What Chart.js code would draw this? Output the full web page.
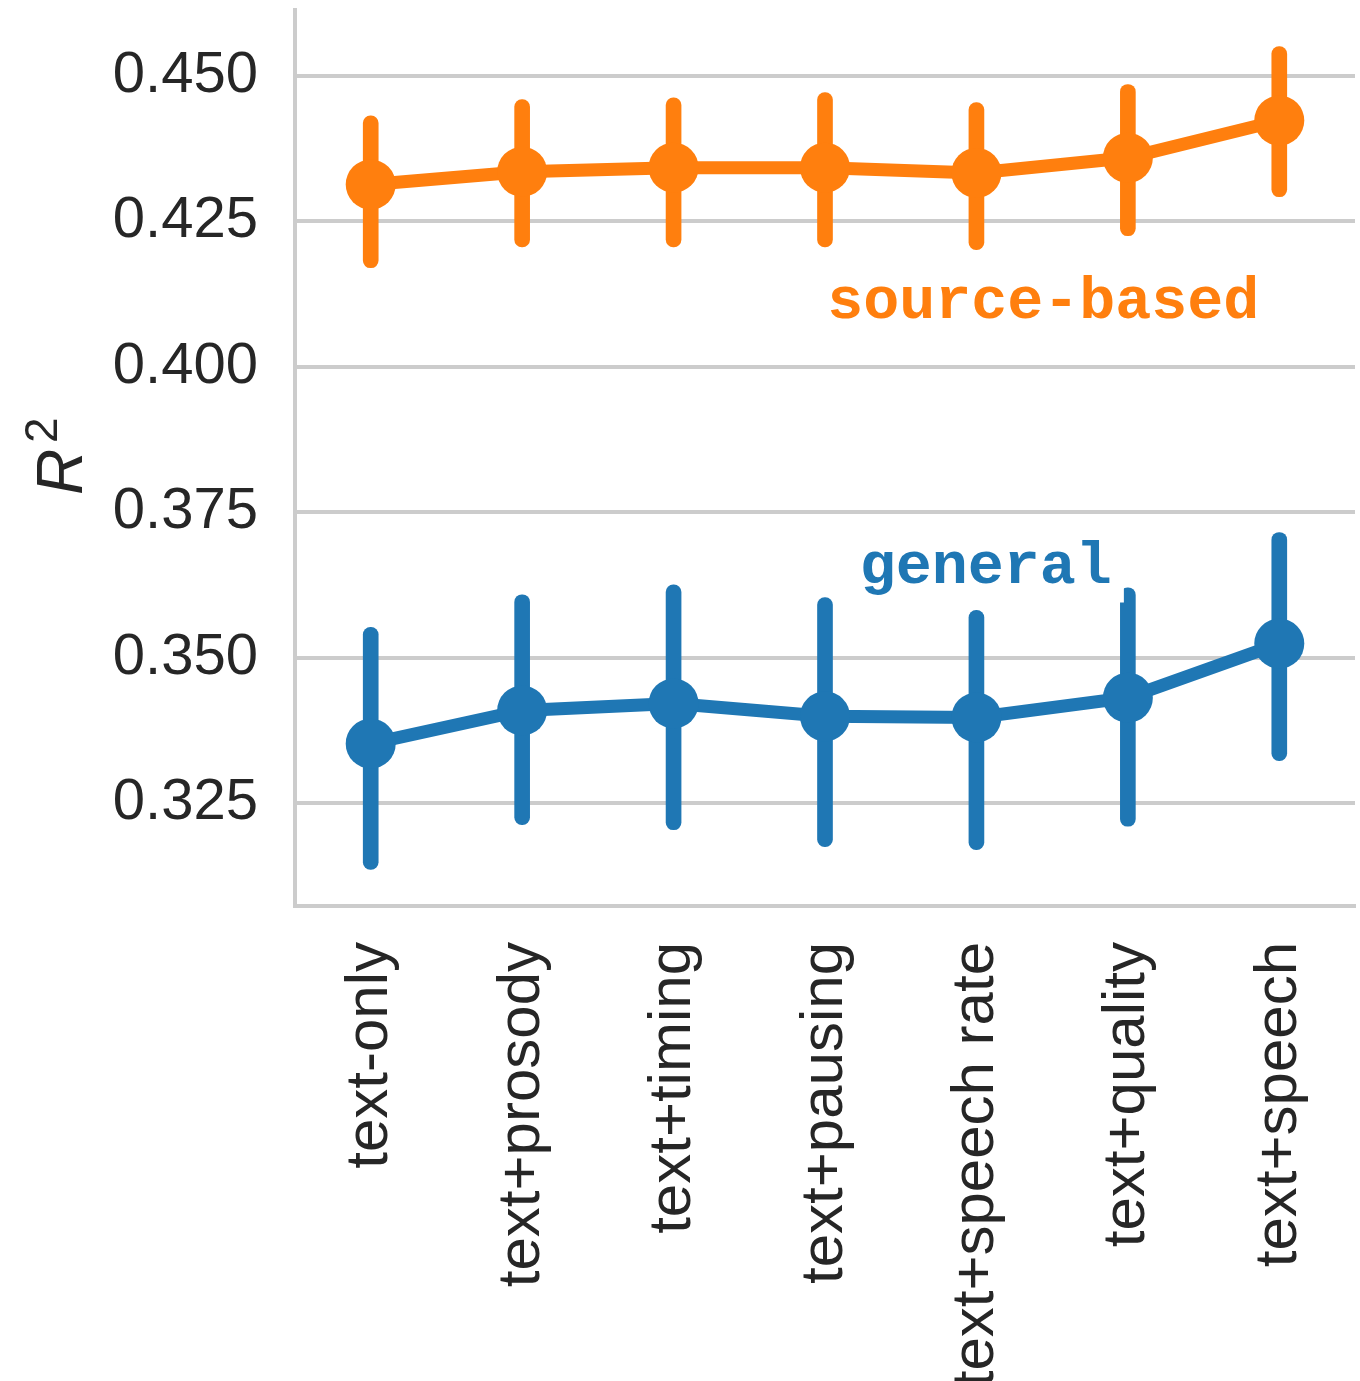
<!DOCTYPE html>
<html>
<head>
<meta charset="utf-8">
<script src="https://cdn.jsdelivr.net/npm/chart.js@4.4.0/dist/chart.umd.min.js"></script>
<style>
  html, body { margin: 0; padding: 0; background: #fff; }
  #wrap { width: 1360px; height: 1381px; }
</style>
</head>
<body>
<div id="wrap"><canvas id="myChart"></canvas></div>
<script>
const categories = ["text-only", "text+prosody", "text+timing", "text+pausing", "text+speech rate", "text+quality", "text+speech"];

// source-based
const sourceMean = [0.4313, 0.4335, 0.4342, 0.4342, 0.4333, 0.4359, 0.4423];
const sourceLow  = [0.4170, 0.4206, 0.4206, 0.4206, 0.4201, 0.4225, 0.4292];
const sourceHigh = [0.4431, 0.4459, 0.4462, 0.4471, 0.4454, 0.4485, 0.4550];

// general
const generalMean = [0.3352, 0.3409, 0.3421, 0.3399, 0.3397, 0.3431, 0.3524];
const generalLow  = [0.3136, 0.3213, 0.3204, 0.3175, 0.3170, 0.3210, 0.3323];
const generalHigh = [0.3552, 0.3608, 0.3625, 0.3603, 0.3581, 0.3620, 0.3715];

const yTicks = [0.325, 0.350, 0.375, 0.400, 0.425, 0.450];
const yMin = 0.3073;
const yMax = 0.4613;

const orange = "#ff7f0e";
const blue = "#1f77b4";
const gridGrey = "#cccccc";
const textDark = "#262626";

// series labels, placed in data units (x = category index)
const notes = [
  { text: "source-based", x: 3.015, y: 0.4084, color: orange },
  { text: "general", x: 3.23, y: 0.3629, color: blue }
];

const textPlugin = {
  id: "textLabels",
  afterDatasetsDraw(chart) {
    const ctx = chart.ctx;
    const xs = chart.scales.x;
    const ys = chart.scales.y;
    ctx.save();
    ctx.font = 'bold 60px "Liberation Mono", "Courier New", monospace';
    ctx.textAlign = "left";
    ctx.textBaseline = "alphabetic";
    notes.forEach(n => {
      const px = xs.getPixelForValue(n.x);
      const py = ys.getPixelForValue(n.y);
      const w = ctx.measureText(n.text).width;
      // white box behind the text, like a bbox
      ctx.fillStyle = "#ffffff";
      ctx.fillRect(px - 12, py - 50, w + 24, 70);
      ctx.fillStyle = n.color;
      ctx.fillText(n.text, px, py);
    });
    ctx.restore();

    // y axis title: italic R with superscript 2
    ctx.save();
    ctx.translate(82, 495);
    ctx.rotate(-Math.PI / 2);
    ctx.fillStyle = textDark;
    ctx.textAlign = "left";
    ctx.textBaseline = "alphabetic";
    ctx.font = 'italic 64px "Liberation Sans", Arial, sans-serif';
    ctx.fillText("R", 0, 0);
    ctx.font = '46px "Liberation Sans", Arial, sans-serif';
    ctx.fillText("2", 52, -25);
    ctx.restore();
  }
};

const ctx = document.getElementById("myChart").getContext("2d");
const chart = new Chart(ctx, {
  type: "line",
  data: {
    labels: categories,
    datasets: [
      {
        type: "bar",
        data: categories.map((c, i) => [sourceLow[i], sourceHigh[i]]),
        backgroundColor: orange,
        barThickness: 15,
        borderRadius: 7.5,
        borderSkipped: false,
        grouped: false,
        order: 2
      },
      {
        type: "bar",
        data: categories.map((c, i) => [generalLow[i], generalHigh[i]]),
        backgroundColor: blue,
        barThickness: 15,
        borderRadius: 7.5,
        borderSkipped: false,
        grouped: false,
        order: 2
      },
      {
        type: "line",
        data: sourceMean,
        borderColor: orange,
        backgroundColor: orange,
        borderWidth: 13,
        pointRadius: 25,
        pointHoverRadius: 25,
        pointBorderWidth: 0,
        tension: 0,
        order: 1
      },
      {
        type: "line",
        data: generalMean,
        borderColor: blue,
        backgroundColor: blue,
        borderWidth: 13,
        pointRadius: 25,
        pointHoverRadius: 25,
        pointBorderWidth: 0,
        tension: 0,
        order: 1
      }
    ]
  },
  options: {
    responsive: true,
    maintainAspectRatio: false,
    devicePixelRatio: 1,
    animation: false,
    layout: { autoPadding: false, padding: { top: 10, right: 5, left: 0, bottom: 0 } },
    plugins: {
      legend: { display: false },
      tooltip: { enabled: false }
    },
    scales: {
      x: {
        type: "category",
        offset: true,
        grid: { display: false, drawTicks: false },
        border: { display: true, color: gridGrey, width: 4 },
        ticks: {
          autoSkip: false,
          minRotation: 90,
          maxRotation: 90,
          padding: 36,
          color: textDark,
          font: { family: '"Liberation Sans", Arial, sans-serif', size: 60 }
        },
        afterFit: scale => {
          scale.height = 475;
          scale.paddingLeft = 0;
          scale.paddingRight = 0;
          scale.paddingTop = 0;
          scale.paddingBottom = 0;
        }
      },
      y: {
        min: yMin,
        max: yMax,
        grid: { color: gridGrey, lineWidth: 4, drawTicks: false },
        border: { display: true, color: gridGrey, width: 4 },
        ticks: {
          padding: 37,
          color: textDark,
          font: { family: '"Liberation Sans", Arial, sans-serif', size: 58 },
          callback: v => v.toFixed(3)
        },
        afterBuildTicks: scale => { scale.ticks = yTicks.map(v => ({ value: v })); },
        afterFit: scale => {
          scale.width = 295;
          scale.paddingLeft = 0;
          scale.paddingRight = 0;
          scale.paddingTop = 0;
          scale.paddingBottom = 0;
        }
      }
    }
  },
  plugins: [textPlugin]
});
</script>
</body>
</html>
